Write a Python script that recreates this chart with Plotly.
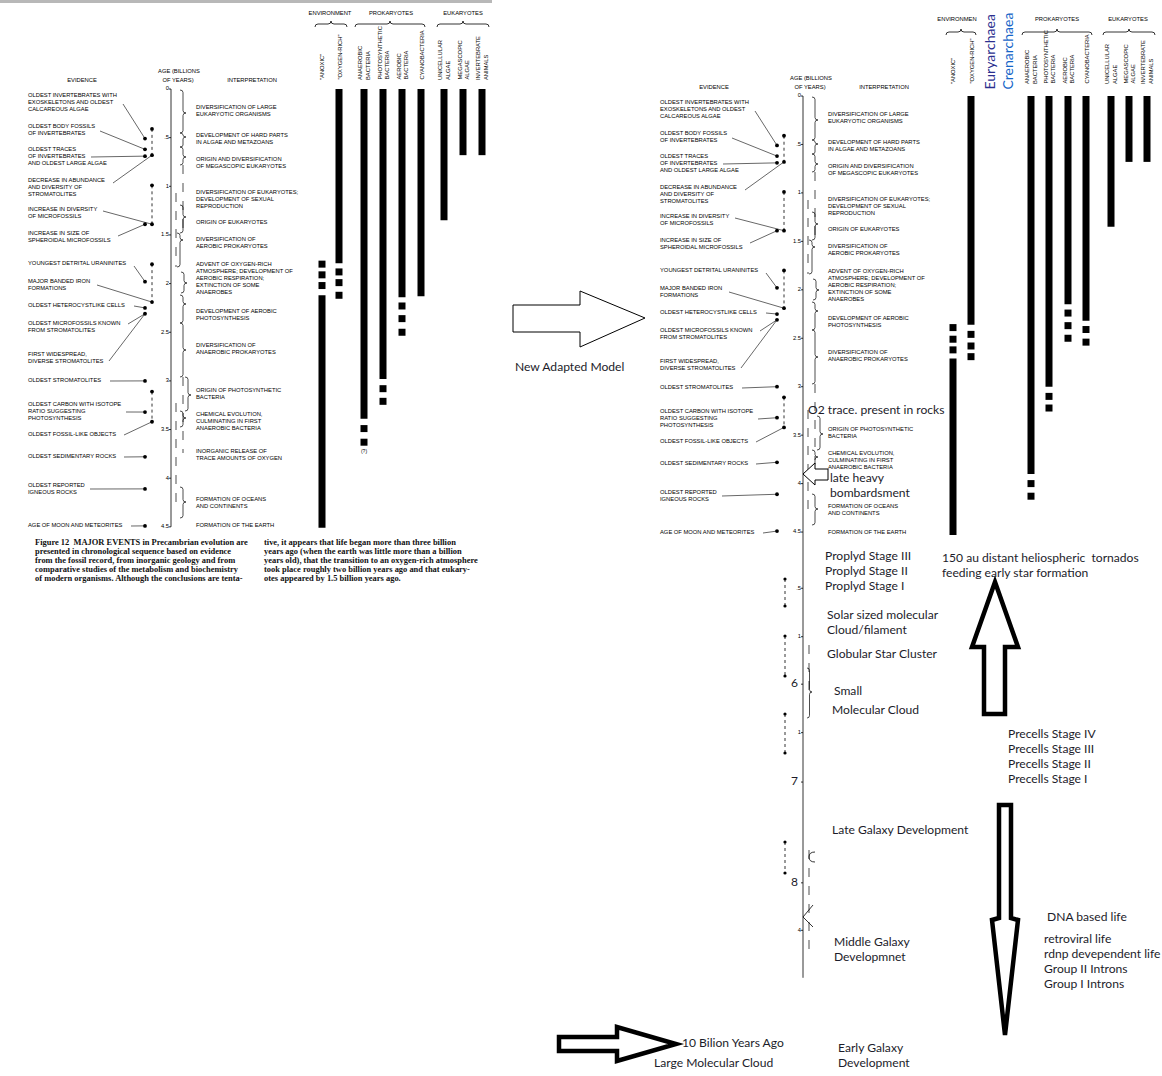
import plotly.graph_objects as go

W, H = 1162, 1076

# ---------------- DATA ----------------
AGE_TICKS = [0, 0.5, 1.0, 1.5, 2.0, 2.5, 3.0, 3.5, 4.0, 4.5]
AGE_TICK_TEXT = ["0", ".5", "1", "1.5", "2", "2.5", "3", "3.5", "4", "4.5"]

EXT_TICKS = [5.08, 5.58, 6.57, 8.61]
EXT_TICK_TEXT = [".5", "1", "1", "4"]
EXT_BIG_TICKS = [6.07, 7.08, 8.12]
EXT_BIG_TEXT = ["6", "7", "8"]

COLUMN_LABELS = ['"ANOXIC"', '"OXYGEN-RICH"', "ANAEROBIC<br>BACTERIA",
                 "PHOTOSYNTHETIC<br>BACTERIA", "AEROBIC<br>BACTERIA", "CYANOBACTERIA",
                 "UNICELLULAR<br>ALGAE", "MEGASCOPIC<br>ALGAE", "INVERTEBRATE<br>ANIMALS"]
ARCHAEA_LABELS = ["Euryarchaea", "Crenarchaea"]
GROUP_HEADERS_ORIG = ["ENVIRONMENT", "PROKARYOTES", "EUKARYOTES"]
GROUP_HEADERS_NEW = ["ENVIRONMEN", "PROKARYOTES", "EUKARYOTES"]

# original model: bar ranges (billions of years ago) and dashed continuation squares
ORIG_BAR_START = [2.12, 0, 0, 0, 0, 0, 0, 0, 0]
ORIG_BAR_END = [4.51, 1.79, 3.39, 2.98, 2.14, 2.13, 1.35, 0.68, 0.68]
ORIG_DASHES = [[1.80, 1.91, 2.02], [1.88, 1.99, 2.12], [3.49, 3.63], [3.08, 3.21],
               [2.23, 2.36, 2.50], [], [], [], []]

# adapted model
NEW_BAR_START = [2.71, 0, 0, 0, 0, 0, 0, 0, 0]
NEW_BAR_END = [4.53, 2.36, 3.90, 3.00, 2.15, 2.32, 1.35, 0.68, 0.68]
NEW_DASHES = [[2.39, 2.51, 2.62], [2.46, 2.58, 2.69], [4.00, 4.13], [3.10, 3.22],
              [2.24, 2.37, 2.50], [2.41, 2.54], [], [], []]

# evidence dots (age) and which dot column they sit in
EVID_DOT_AGE = [0.41, 0.51, 0.62, 0.69, 0.68, 0.99, 1.39, 1.39, 1.80, 1.98,
                2.19, 2.25, 2.31, 3.00, 3.11, 3.32, 3.42, 3.78, 4.11, 4.49]
EVID_DOT_COL = [1, 0, 0, 0, 1, 1, 0, 1, 1, 0, 1, 0, 0, 0, 1, 0, 1, 0, 0, 0]
EVID_DASH_PAIRS = [(0, 4), (5, 7), (8, 10), (14, 16)]

EVIDENCE_TEXT = [
    (["OLDEST INVERTEBRATES WITH", "EXOSKELETONS AND OLDEST", "CALCAREOUS ALGAE"], 96),
    (["OLDEST BODY FOSSILS", "OF INVERTEBRATES"], 127),
    (["OLDEST TRACES", "OF INVERTEBRATES", "AND OLDEST LARGE ALGAE"], 150),
    (["DECREASE IN ABUNDANCE", "AND DIVERSITY OF", "STROMATOLITES"], 181),
    (["INCREASE IN DIVERSITY", "OF MICROFOSSILS"], 210),
    (["INCREASE IN SIZE OF", "SPHEROIDAL MICROFOSSILS"], 234),
    (["YOUNGEST DETRITAL URANINITES"], 264),
    (["MAJOR BANDED IRON", "FORMATIONS"], 282),
    (["OLDEST HETEROCYSTLIKE CELLS"], 306),
    (["OLDEST MICROFOSSILS KNOWN", "FROM STROMATOLITES"], 324),
    (["FIRST WIDESPREAD,", "DIVERSE STROMATOLITES"], 355),
    (["OLDEST STROMATOLITES"], 381),
    (["OLDEST CARBON WITH ISOTOPE", "RATIO SUGGESTING", "PHOTOSYNTHESIS"], 405),
    (["OLDEST FOSSIL-LIKE OBJECTS"], 435),
    (["OLDEST SEDIMENTARY ROCKS"], 457),
    (["OLDEST REPORTED", "IGNEOUS ROCKS"], 486),
    (["AGE OF MOON AND METEORITES"], 526),
]
# leader line start (text end) -> evidence dot index
LEADERS = [((123, 104), 1), ((100, 131), 2), ((91, 157), 3), ((113, 183), 4),
           ((103, 211), 7), ((118, 236), 6), ((134, 266), 9), ((97, 285), 10),
           ((134, 306), 11), ((128, 324), 12), ((109, 361), 12), ((110, 381), 13),
           ((126, 412), 15), ((124, 435), 16), ((124, 457), 17), ((90, 489), 18),
           ((131, 526), 19)]

INTERP_TEXT = [
    (["DIVERSIFICATION OF LARGE", "EUKARYOTIC ORGANISMS"], 108),
    (["DEVELOPMENT OF HARD PARTS", "IN ALGAE AND METAZOANS"], 136),
    (["ORIGIN AND DIVERSIFICATION", "OF MEGASCOPIC EUKARYOTES"], 160),
    (["DIVERSIFICATION OF EUKARYOTES;", "DEVELOPMENT OF SEXUAL", "REPRODUCTION"], 193),
    (["ORIGIN OF EUKARYOTES"], 223),
    (["DIVERSIFICATION OF", "AEROBIC PROKARYOTES"], 240),
    (["ADVENT OF OXYGEN-RICH", "ATMOSPHERE; DEVELOPMENT OF", "AEROBIC RESPIRATION;",
      "EXTINCTION OF SOME", "ANAEROBES"], 265),
    (["DEVELOPMENT OF AEROBIC", "PHOTOSYNTHESIS"], 312),
    (["DIVERSIFICATION OF", "ANAEROBIC PROKARYOTES"], 346),
    (["ORIGIN OF PHOTOSYNTHETIC", "BACTERIA"], 391),
    (["CHEMICAL EVOLUTION,", "CULMINATING IN FIRST", "ANAEROBIC BACTERIA"], 415),
    (["INORGANIC RELEASE OF", "TRACE AMOUNTS OF OXYGEN"], 452),
    (["FORMATION OF OCEANS", "AND CONTINENTS"], 500),
    (["FORMATION OF THE EARTH"], 526),
]

CAPTION_LEFT = [
    "Figure 12  MAJOR EVENTS in Precambrian evolution are",
    "presented in chronological sequence based on evidence",
    "from the fossil record, from inorganic geology and from",
    "comparative studies of the metabolism and biochemistry",
    "of modern organisms. Although the conclusions are tenta-",
]
CAPTION_RIGHT = [
    "tive, it appears that life began more than three billion",
    "years ago (when the earth was little more than a billion",
    "years old), that the transition to an oxygen-rich atmosphere",
    "took place roughly two billion years ago and that eukary-",
    "otes appeared by 1.5 billion years ago.",
]

PAINT_TEXT = [
    ("New Adapted Model", 515, 368),
    ("O2 trace. present in rocks", 808, 411),
    ("late heavy", 830, 479),
    ("bombardsment", 830, 494),
    ("Proplyd Stage III", 825, 557),
    ("Proplyd Stage II", 825, 572),
    ("Proplyd Stage I", 825, 587),
    ("150 au distant heliospheric  tornados", 942, 559),
    ("feeding early star formation", 942, 574),
    ("Solar sized molecular", 827, 616),
    ("Cloud/filament", 827, 631),
    ("Globular Star Cluster", 827, 655),
    ("Small", 834, 692),
    ("Molecular Cloud", 832, 711),
    ("Precells Stage IV", 1008, 735),
    ("Precells Stage III", 1008, 750),
    ("Precells Stage II", 1008, 765),
    ("Precells Stage I", 1008, 780),
    ("Late Galaxy Development", 832, 831),
    ("DNA based life", 1047, 918),
    ("retroviral life", 1044, 940),
    ("rdnp devependent life", 1044, 955),
    ("Group II Introns", 1044, 970),
    ("Group I Introns", 1044, 985),
    ("Middle Galaxy", 834, 943),
    ("Developmnet", 834, 958),
    ("10 Bilion Years Ago", 682, 1044),
    ("Large Molecular Cloud", 654, 1064),
    ("Early Galaxy", 838, 1049),
    ("Development", 838, 1064),
]

# ---------------- LAYOUT CONSTANTS ----------------
PAPER_FONT = "Liberation Sans, Arial, sans-serif"
SERIF_FONT = "Liberation Serif, Times New Roman, serif"
PAINT_FONT = "Lato, sans-serif"
PAINT_COLOR = "#1c1c2a"
PF = 5.8       # paper font size
LINE = 6.8     # paper line spacing
EVID_X, INTERP_X, AXIS_X = 28, 196, 171
DOT_X = [145, 152]

LEFT = dict(y0=89, k=97.3, dx=0, dy=0, axis="y2", cols=[322, 339, 364, 383, 402, 421, 444, 463, 482],
            head_y=14, brace_y=27, label_y=82, headers=GROUP_HEADERS_ORIG,
            head_x=[330, 391, 463], braces=[(315, 347), (355, 425), (437, 489)],
            start=ORIG_BAR_START, end=ORIG_BAR_END, dashes=ORIG_DASHES, axis_end=4.5,
            interp_shift={}, interp_skip=set(), brace_shift={})
RIGHT = dict(y0=96, k=96.9, dx=632, dy=7, axis="y3", cols=[953, 971, 1031, 1049, 1068, 1086, 1111, 1129, 1147],
             head_y=20, brace_y=35, label_y=86, headers=GROUP_HEADERS_NEW,
             head_x=[957, 1057, 1128], braces=[(946, 976), (1022, 1092), (1103, 1155)],
             start=NEW_BAR_START, end=NEW_BAR_END, dashes=NEW_DASHES, axis_end=9.1,
             interp_shift={9: 32, 10: 32}, interp_skip={11}, brace_shift={8: 32, 9: 32})

INTERP_BRACES = [(180, 90, 133, 113), (180, 133, 147, 137), (180, 147, 165, 157),
                 (180, 205, 233, 217), (177, 233, 267, 240), (181, 272, 293, 283),
                 (180, 295, 323, 304), (180, 323, 377, 350), (185, 377, 411, 395),
                 (180, 411, 427, 418), (180, 487, 518, 502)]
INTERP_DASHED = [(183, 165, 233), (176, 193, 267), (183, 377, 453), (176, 403, 502)]

fig = go.Figure()
shapes = []
annotations = []


def a2p(P, age):
    return P["y0"] + P["k"] * age


def text_trace(xs, ys, texts, pos, size, family=PAPER_FONT, color="#000000", yaxis="y"):
    fig.add_trace(go.Scatter(x=xs, y=ys, text=texts, mode="text", textposition=pos,
                             textfont=dict(size=size, family=family, color=color),
                             hoverinfo="skip", showlegend=False, yaxis=yaxis, cliponaxis=False))


def line(x0, y0, x1, y1, w=0.8, dash="solid", yref="y", color="black"):
    shapes.append(dict(type="line", x0=x0, y0=y0, x1=x1, y1=y1, xref="x", yref=yref,
                       line=dict(color=color, width=w, dash=dash), layer="above"))


def path(p, w=0.8, fill=None, color="black"):
    d = dict(type="path", path=p, xref="x", yref="y", line=dict(color=color, width=w), layer="above")
    if fill:
        d["fillcolor"] = fill
    shapes.append(d)


def brace_v(x, y0, y1, ym, w=6):
    xm, xt = x + w * 0.5, x + w
    q = min(2.5, (ym - y0) / 2.0, (y1 - ym) / 2.0)
    return (f"M {x},{y0} Q {xm},{y0} {xm},{y0+q} L {xm},{ym-q} Q {xm},{ym} {xt},{ym} "
            f"Q {xm},{ym} {xm},{ym+q} L {xm},{y1-q} Q {xm},{y1} {x},{y1}")


def brace_h(x0, x1, y, h=6):
    xm = (x0 + x1) / 2.0
    ym, yt = y - h * 0.5, y - h
    q = 3
    return (f"M {x0},{y} Q {x0},{ym} {x0+q},{ym} L {xm-q},{ym} Q {xm},{ym} {xm},{yt} "
            f"Q {xm},{ym} {xm+q},{ym} L {x1-q},{ym} Q {x1},{ym} {x1},{y}")


def draw_panel(P):
    dx, dy, ax = P["dx"], P["dy"], P["axis"]
    xs, ys, ts = [], [], []
    for lines, top in EVIDENCE_TEXT:
        for i, ln in enumerate(lines):
            xs.append(EVID_X + dx); ys.append(top + i * LINE + dy); ts.append(ln)
    for j, (lines, top) in enumerate(INTERP_TEXT):
        if j in P["interp_skip"]:
            continue
        sh = P["interp_shift"].get(j, 0)
        for i, ln in enumerate(lines):
            xs.append(INTERP_X + dx); ys.append(top + i * LINE + dy + sh); ts.append(ln)
    text_trace(xs, ys, ts, "middle right", PF)
    text_trace([82 + dx, 179 + dx, 178 + dx, 252 + dx], [81 + dy, 72 + dy, 81 + dy, 81 + dy],
               ["EVIDENCE", "AGE (BILLIONS", "OF YEARS)", "INTERPRETATION"], "middle center", PF)
    # age axis
    line(AXIS_X + dx, 0, AXIS_X + dx, P["axis_end"], yref=ax)
    for t in AGE_TICKS:
        line(AXIS_X + dx - 2, t, AXIS_X + dx, t, yref=ax)
    text_trace([AXIS_X + dx - 2] * len(AGE_TICKS), AGE_TICKS, AGE_TICK_TEXT, "middle left", PF, yaxis=ax)
    # evidence dots and connectors
    fig.add_trace(go.Scatter(x=[DOT_X[c] + dx for c in EVID_DOT_COL], y=EVID_DOT_AGE, mode="markers",
                             marker=dict(size=3.8, color="black"), yaxis=ax, hoverinfo="skip",
                             showlegend=False, cliponaxis=False))
    cx, cy = [], []
    for a, b in EVID_DASH_PAIRS:
        cx += [DOT_X[1] + dx, DOT_X[1] + dx, None]
        cy += [EVID_DOT_AGE[a], EVID_DOT_AGE[b], None]
    fig.add_trace(go.Scatter(x=cx, y=cy, mode="lines", line=dict(color="black", width=0.8, dash="dot"),
                             yaxis=ax, hoverinfo="skip", showlegend=False))
    for (sx, sy), di in LEADERS:
        line(sx + dx, sy + dy, DOT_X[EVID_DOT_COL[di]] + dx, a2p(P, EVID_DOT_AGE[di]), w=0.6)
    # interpretation braces
    for j, (x, y0, y1, ym) in enumerate(INTERP_BRACES):
        sh = P["brace_shift"].get(j, 0)
        path(brace_v(x + dx, y0 + dy + sh, y1 + dy + sh, ym + dy + sh), w=0.7)
    for x, y0, y1 in INTERP_DASHED:
        line(x + dx, y0 + dy, x + dx, y1 + dy, w=0.7, dash="dash")
    # group headers and braces
    text_trace(P["head_x"], [P["head_y"]] * 3, P["headers"], "middle center", PF)
    for x0, x1 in P["braces"]:
        path(brace_h(x0, x1, P["brace_y"]), w=0.8)
    # column labels
    for x, lab in zip(P["cols"], COLUMN_LABELS):
        annotations.append(dict(x=x, y=P["label_y"], xref="x", yref="y", text=lab, showarrow=False,
                                textangle=-90, xanchor="center", yanchor="bottom", align="left",
                                font=dict(size=PF, family=PAPER_FONT, color="#000")))
    # bars
    fig.add_trace(go.Bar(x=P["cols"], y=[e - s for s, e in zip(P["start"], P["end"])], base=P["start"],
                         width=[7] * len(P["cols"]), marker=dict(color="black", line=dict(width=0)),
                         yaxis=ax, hoverinfo="skip", showlegend=False))
    mx, my = [], []
    for x, ds in zip(P["cols"], P["dashes"]):
        for d in ds:
            mx.append(x); my.append(d)
    fig.add_trace(go.Scatter(x=mx, y=my, mode="markers", yaxis=ax, hoverinfo="skip", showlegend=False,
                             marker=dict(symbol="square", size=7, color="black", line=dict(width=0))))


draw_panel(LEFT)
draw_panel(RIGHT)

# "(?)" under anaerobic bacteria in original
text_trace([LEFT["cols"][2]], [3.73], ["(?)"], "middle center", 5, yaxis="y2")

# gray band at top of the scanned page
shapes.append(dict(type="rect", x0=0, x1=492, y0=0, y1=3, xref="x", yref="y",
                   fillcolor="#b8b8b8", line=dict(width=0), layer="below"))

# caption
cap_x, cap_y = [], []
for i, _ in enumerate(CAPTION_LEFT):
    cap_x.append(35); cap_y.append(543 + 9 * i)
for i, _ in enumerate(CAPTION_RIGHT):
    cap_x.append(264); cap_y.append(543 + 9 * i)
text_trace(cap_x, cap_y, ["<b>" + t + "</b>" for t in CAPTION_LEFT + CAPTION_RIGHT], "middle right", 8.45,
           family=SERIF_FONT, color="#111")

# archaea labels
for x, lab, col in zip([989, 1007], ARCHAEA_LABELS, ["#2b2f8f", "#1565c8"]):
    annotations.append(dict(x=x, y=92, xref="x", yref="y", text=lab, showarrow=False, textangle=-90,
                            xanchor="center", yanchor="bottom",
                            font=dict(size=14, family=PAINT_FONT, color=col)))

# extension of the adapted age axis
P = RIGHT
for t in EXT_TICKS + EXT_BIG_TICKS:
    line(AXIS_X + P["dx"] - 2, t, AXIS_X + P["dx"], t, yref="y3")
text_trace([AXIS_X + P["dx"] - 2] * len(EXT_TICKS), EXT_TICKS, EXT_TICK_TEXT, "middle left", PF, yaxis="y3")
text_trace([AXIS_X + P["dx"] - 5] * len(EXT_BIG_TICKS), EXT_BIG_TICKS, EXT_BIG_TEXT, "middle left", 12,
           family=PAINT_FONT, color=PAINT_COLOR, yaxis="y3")
for y0, y1 in [(579, 606), (636, 676), (714, 753), (842, 873)]:
    line(785, y0, 785, y1, w=0.8, dash="dot")
    fig.add_trace(go.Scatter(x=[785, 785], y=[y0, y1], mode="markers", marker=dict(size=3.2, color="black"),
                             hoverinfo="skip", showlegend=False))
for y0, y1 in [(645, 690), (850, 953)]:
    line(809, y0, 809, y1, w=0.7, dash="dash")
path(brace_v(807, 668, 718, 692, 5), w=0.7)
path("M 813,905 L 803,917 L 813,927", w=0.8)
path("M 815,852 Q 809,852 809,857 Q 809,862 815,862", w=0.8)

# arrows
path("M 513,305 L 580,305 L 580,291 L 645,318 L 580,347 L 580,332 L 513,332 Z", w=1, fill="white")
path("M 984,714 L 984,647 L 972,647 L 995,582 L 1018,647 L 1005,647 L 1005,714 Z", w=4.5, fill="white")
path("M 999,805 L 1011,805 L 1011,918 L 1018,920 L 1005,1035 L 992,920 L 999,918 Z", w=4.5, fill="white")
path("M 559,1037 L 617,1037 L 617,1027 L 676,1044 L 617,1061 L 617,1051 L 559,1051 Z", w=4.5, fill="white")
path("M 828,469 L 815,469 L 815,463 L 803,474 L 815,485 L 815,480 L 828,480 Z", w=1, fill="white")

# hand-written (Paint) texts
text_trace([p[1] for p in PAINT_TEXT], [p[2] for p in PAINT_TEXT], [p[0] for p in PAINT_TEXT],
           "middle right", 12.1, family=PAINT_FONT, color=PAINT_COLOR)

fig.update_layout(
    width=W, height=H, margin=dict(l=0, r=0, t=0, b=0),
    paper_bgcolor="white", plot_bgcolor="white", barmode="overlay", showlegend=False,
    xaxis=dict(range=[0, W], visible=False, domain=[0, 1], fixedrange=True),
    yaxis=dict(range=[H, 0], visible=False, domain=[0, 1], fixedrange=True),
    yaxis2=dict(range=[(H - LEFT["y0"]) / LEFT["k"], -LEFT["y0"] / LEFT["k"]], overlaying="y",
                visible=False, fixedrange=True),
    yaxis3=dict(range=[(H - RIGHT["y0"]) / RIGHT["k"], -RIGHT["y0"] / RIGHT["k"]], overlaying="y",
                visible=False, fixedrange=True),
    shapes=shapes, annotations=annotations,
)

fig.write_html("out.html", config={"displayModeBar": False},
               post_script="document.body.style.margin='0';document.body.style.overflow='hidden';")
